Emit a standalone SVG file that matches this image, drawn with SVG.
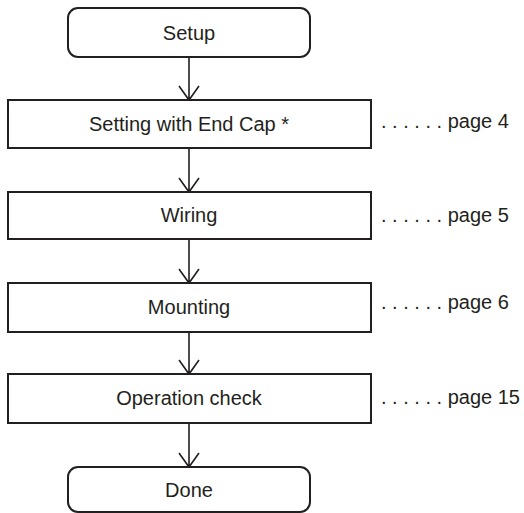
<svg xmlns="http://www.w3.org/2000/svg" width="524" height="513" viewBox="0 0 524 513">
<style>
.box{fill:#fff;stroke:#231f20;stroke-width:2}
.t{font-family:"Liberation Sans",Arial,sans-serif;font-size:20px;fill:#231f20;text-anchor:middle}
.p{font-family:"Liberation Sans",Arial,sans-serif;font-size:20px;fill:#231f20}
.c{fill:none;stroke:#231f20;stroke-width:1.6}
</style>
<rect width="524" height="513" fill="#fff"/>
<g id="connectors">
<path class="c" d="M189 57V100M179 86L189 100L199 86"/>
<path class="c" d="M189 148V192M179 178L189 192L199 178"/>
<path class="c" d="M189 239V283M179 269L189 283L199 269"/>
<path class="c" d="M189 332V374M179 360L189 374L199 360"/>
<path class="c" d="M189 423V467M179 453L189 467L199 453"/>
</g>
<g id="setup"><rect class="box" x="68" y="8" width="242" height="49" rx="10"/><text class="t" x="189" y="40">Setup</text></g>
<g id="endcap"><rect class="box" x="8" y="100" width="363" height="48"/><text class="t" x="189" y="131">Setting with End Cap *</text><text class="p" x="381" y="128">. . . . . . page 4</text></g>
<g id="wiring"><rect class="box" x="8" y="192" width="363" height="47"/><text class="t" x="189" y="222">Wiring</text><text class="p" x="381" y="222">. . . . . . page 5</text></g>
<g id="mounting"><rect class="box" x="8" y="283" width="363" height="49"/><text class="t" x="189" y="314">Mounting</text><text class="p" x="381" y="309">. . . . . . page 6</text></g>
<g id="opcheck"><rect class="box" x="8" y="374" width="363" height="49"/><text class="t" x="189" y="405">Operation check</text><text class="p" x="381" y="404">. . . . . . page 15</text></g>
<g id="done"><rect class="box" x="68" y="467" width="242" height="45" rx="10"/><text class="t" x="189" y="497">Done</text></g>
</svg>
